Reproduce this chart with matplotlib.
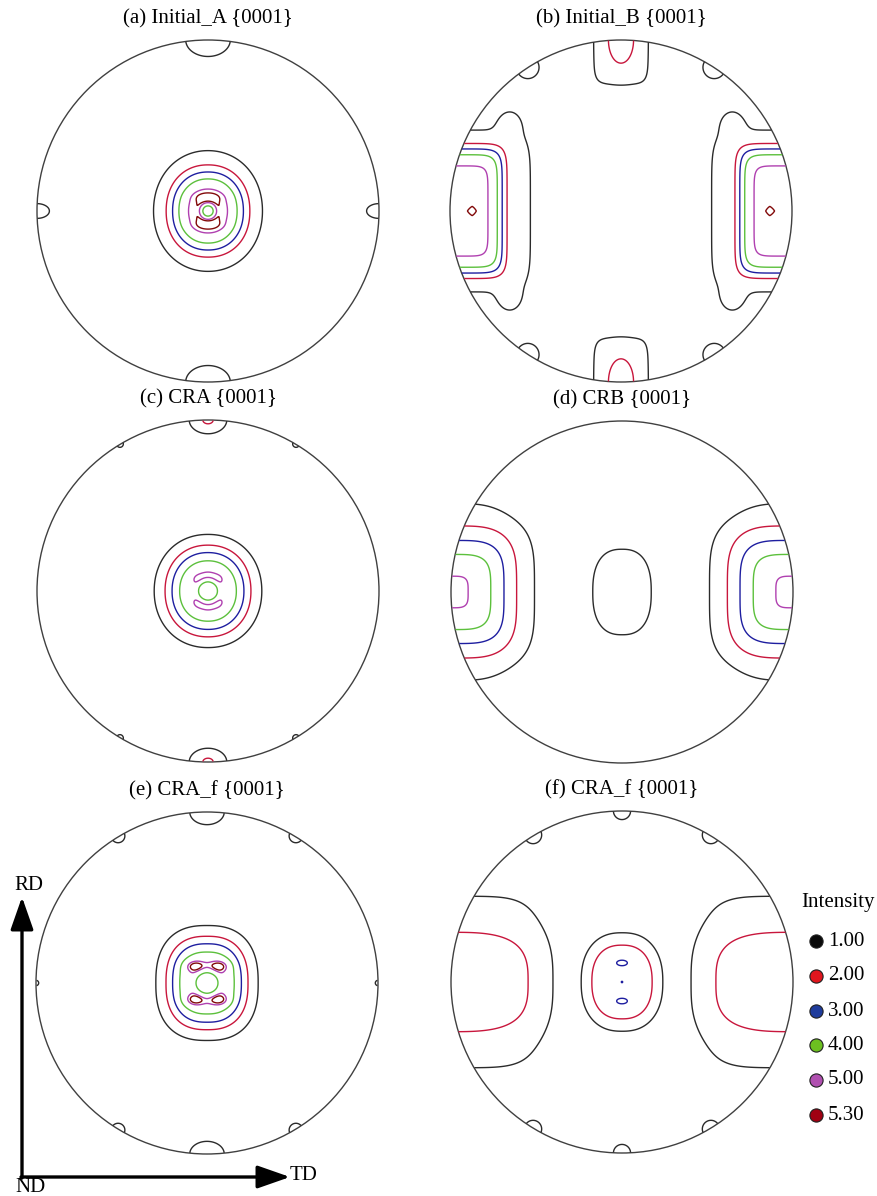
import numpy as np
import matplotlib.pyplot as plt
from matplotlib.patches import Circle

plt.rcParams["font.family"] = ["Liberation Serif", "DejaVu Serif"]

# contour levels of the {0001} pole figures and their colours
levels = [1.00, 2.00, 3.00, 4.00, 5.00, 5.30]
level_labels = ["1.00", "2.00", "3.00", "4.00", "5.00", "5.30"]
line_colors = ["#2b2b2b", "#c8163c", "#1e1ea0", "#5cc03c", "#b040b0", "#820a0a"]
dot_colors = ["#0a0a0a", "#e0161e", "#1f3c9c", "#6cc020", "#b050b0", "#a00012"]

titles = ["(a) Initial_A {0001}", "(b) Initial_B {0001}", "(c) CRA {0001}",
          "(d) CRB {0001}", "(e) CRA_f {0001}", "(f) CRA_f {0001}"]

background = 0.3

# texture components: x, y, height, width_x, width_y, radial power, shape power
peaks_a = [
    (0.0, 0.0, 1.5, 0.35, 0.39, 2, 2),
    (0.0, 0.0, 3.6, 0.22, 0.242, 4, 2.2),
    (0.0, 0.0, -2.0, 0.042, 0.042, 3, 2),
    (0.0, 0.085, 0.22, 0.1, 0.03, 2, 2),
    (0.0, -0.085, 0.22, 0.1, 0.03, 2, 2),
    (0.0, 1.0, 1.2, 0.177, 0.13, 2, 2),
    (0.0, -1.0, 1.2, 0.177, 0.13, 2, 2),
    (1.0, 0.0, 0.9, 0.144, 0.086, 2, 2),
    (-1.0, 0.0, 0.9, 0.144, 0.086, 2, 2),
]

peaks_b = [
    (-1.0, 0.0, 3.95, 0.312, 0.373, 8, 8),
    (1.0, 0.0, 3.95, 0.312, 0.373, 8, 8),
    (-0.87, 0.0, 0.12, 0.03, 0.03, 2, 1.2),
    (0.87, 0.0, 0.12, 0.03, 0.03, 2, 1.2),
    (-0.85, 0.0, 1.0, 0.38, 0.56, 6, 6),
    (0.85, 0.0, 1.0, 0.38, 0.56, 6, 6),
    (-0.65, 0.53, 0.6, 0.07, 0.08, 2, 2),
    (-0.65, -0.53, 0.6, 0.07, 0.08, 2, 2),
    (0.65, 0.53, 0.6, 0.07, 0.08, 2, 2),
    (0.65, -0.53, 0.6, 0.07, 0.08, 2, 2),
    (0.0, 1.0, 1.0, 0.186, 0.30, 6, 6),
    (0.0, -1.0, 1.0, 0.186, 0.30, 6, 6),
    (0.0, 1.0, 1.6, 0.081, 0.15, 2, 2),
    (0.0, -1.0, 1.6, 0.081, 0.15, 2, 2),
    (0.545, 0.84, 1.0, 0.11, 0.11, 2, 2),
    (-0.545, 0.84, 1.0, 0.11, 0.11, 2, 2),
    (0.545, -0.84, 1.0, 0.11, 0.11, 2, 2),
    (-0.545, -0.84, 1.0, 0.11, 0.11, 2, 2),
]

peaks_c = [
    (0.0, 0.0, 1.6, 0.31, 0.31, 2, 2),
    (0.0, 0.0, 3.2, 0.235, 0.255, 4, 2.2),
    (0.0, 0.0, -1.7, 0.066, 0.066, 4, 2),
    (0.0, 0.095, 0.25, 0.05, 0.03, 2, 2),
    (0.06, 0.075, 0.25, 0.04, 0.03, 2, 2),
    (-0.06, 0.075, 0.25, 0.04, 0.03, 2, 2),
    (0.0, -0.095, 0.25, 0.05, 0.03, 2, 2),
    (0.06, -0.075, 0.25, 0.04, 0.03, 2, 2),
    (-0.06, -0.075, 0.25, 0.04, 0.03, 2, 2),
    (0.0, 1.0, 1.83, 0.112, 0.082, 2, 2),
    (0.0, -1.0, 1.83, 0.112, 0.082, 2, 2),
    (0.515, 0.86, 0.75, 0.076, 0.076, 2, 2),
    (-0.515, 0.86, 0.75, 0.076, 0.076, 2, 2),
    (0.515, -0.86, 0.75, 0.076, 0.076, 2, 2),
    (-0.515, -0.86, 0.75, 0.076, 0.076, 2, 2),
]

peaks_d = [
    (-1.0, 0.0, 4.35, 0.383, 0.353, 2.5, 4),
    (1.0, 0.0, 4.35, 0.383, 0.353, 2.5, 4),
    (-0.95, 0.0, 0.5, 0.3, 0.7, 4, 3),
    (0.95, 0.0, 0.5, 0.3, 0.7, 4, 3),
    (0.0, 0.0, 0.9, 0.24, 0.353, 4, 2.5),
]

peaks_e = [
    (0.0, 0.0, 1.5, 0.30, 0.32, 2, 2.5),
    (0.0, 0.0, 3.3, 0.225, 0.26, 4, 2.5),
    (0.0, 0.0, -1.6, 0.078, 0.078, 4, 2),
    (0.075, 0.1, 0.8, 0.06, 0.035, 2, 2),
    (-0.075, 0.1, 0.8, 0.06, 0.035, 2, 2),
    (0.075, -0.1, 0.8, 0.06, 0.035, 2, 2),
    (-0.075, -0.1, 0.8, 0.06, 0.035, 2, 2),
    (0.0, 1.0, 1.1, 0.15, 0.11, 2, 2),
    (0.0, -1.0, 1.1, 0.15, 0.11, 2, 2),
    (0.52, 0.86, 0.85, 0.09, 0.09, 2, 2),
    (-0.52, 0.86, 0.85, 0.09, 0.09, 2, 2),
    (0.52, -0.86, 0.85, 0.09, 0.09, 2, 2),
    (-0.52, -0.86, 0.85, 0.09, 0.09, 2, 2),
    (1.0, 0.0, 0.75, 0.06, 0.06, 2, 2),
    (-1.0, 0.0, 0.75, 0.06, 0.06, 2, 2),
]

peaks_f = [
    (0.0, 0.0, 2.55, 0.22, 0.27, 4, 2.4),
    (0.0, 0.115, 0.35, 0.05, 0.025, 2, 2),
    (0.0, -0.115, 0.35, 0.05, 0.025, 2, 2),
    (0.0, 0.0, 0.2, 0.008, 0.008, 2, 2),
    (-1.0, 0.0, 1.75, 0.5, 0.31, 4, 3),
    (1.0, 0.0, 1.75, 0.5, 0.31, 4, 3),
    (-1.0, 0.0, 0.9, 0.64, 0.63, 6, 5),
    (1.0, 0.0, 0.9, 0.64, 0.63, 6, 5),
    (0.0, 1.0, 0.9, 0.1, 0.1, 2, 2),
    (0.0, -1.0, 0.9, 0.1, 0.1, 2, 2),
    (0.52, 0.86, 0.9, 0.1, 0.1, 2, 2),
    (-0.52, 0.86, 0.9, 0.1, 0.1, 2, 2),
    (0.52, -0.86, 0.9, 0.1, 0.1, 2, 2),
    (-0.52, -0.86, 0.9, 0.1, 0.1, 2, 2),
]

panel_peaks = [peaks_a, peaks_b, peaks_c, peaks_d, peaks_e, peaks_f]

W, H = 877, 1196
R = 171
centers = [(208, 211), (621, 211), (208, 591), (622, 592), (207, 983), (622, 982)]

g = np.linspace(-1, 1, 601)
X, Y = np.meshgrid(g, g)
outside = X ** 2 + Y ** 2 > 1.0


def intensity(peaks):
    f = np.full(X.shape, background)
    for x0, y0, h, wx, wy, p, q in peaks:
        r = (np.abs((X - x0) / wx) ** q + np.abs((Y - y0) / wy) ** q) ** (1.0 / q)
        f += h * np.exp(-r ** p)
    return np.ma.masked_where(outside, f)


fig = plt.figure(figsize=(W / 100, H / 100), dpi=100)

for (cx, cy), title, peaks in zip(centers, titles, panel_peaks):
    half = 1.03 * R
    ax = fig.add_axes([(cx - half) / W, 1 - (cy + half) / H, 2 * half / W, 2 * half / H])
    ax.contour(X, Y, intensity(peaks), levels=levels, colors=line_colors, linewidths=1.0)
    ax.add_patch(Circle((0, 0), 1.0, fill=False, edgecolor="#404040", lw=1.0))
    ax.set_xlim(-1.03, 1.03)
    ax.set_ylim(-1.03, 1.03)
    ax.axis("off")
    ax.text(0, 1.095, title, ha="center", va="baseline", fontsize=15, clip_on=False)

# sample axes and legend, drawn in pixel units
ov = fig.add_axes([0, 0, 1, 1])
ov.set_xlim(0, W)
ov.set_ylim(H, 0)
ov.axis("off")

arrow = dict(arrowstyle="-|>,head_length=1.0,head_width=0.35", lw=2.4, color="black",
             mutation_scale=20, shrinkA=0, shrinkB=0)
ov.annotate("", xy=(22, 897), xytext=(22, 1178), arrowprops=arrow)
ov.annotate("", xy=(290, 1177), xytext=(21, 1177), arrowprops=arrow)
ov.text(29, 886, "RD", ha="center", va="center", fontsize=15)
ov.text(30, 1188, "ND", ha="center", va="center", fontsize=15)
ov.text(290, 1176, "TD", ha="left", va="center", fontsize=15)

ov.text(838, 902, "Intensity", ha="center", va="center", fontsize=15)
legend_y = [941, 976, 1011, 1045, 1080, 1115]
for yy, col, lab in zip(legend_y, dot_colors, level_labels):
    ov.plot(816, yy, marker="o", ms=9.5, color=col, mec="#202020", mew=0.8)
    ov.text(828, yy, lab, ha="left", va="center", fontsize=15)

fig.savefig("out.png", dpi=100)
